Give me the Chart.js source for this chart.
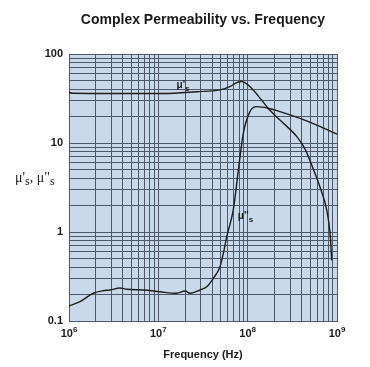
<!DOCTYPE html>
<html>
<head>
<meta charset="utf-8">
<script src="https://cdn.jsdelivr.net/npm/chart.js@4.4.1/dist/chart.umd.min.js"></script>
<style>
  html, body { margin: 0; padding: 0; background: #fff; }
  #wrap { width: 370px; height: 367px; }
</style>
</head>
<body>
<div id="wrap"><canvas id="permChart" width="370" height="367"></canvas></div>
<script>
var freqReal = [1e6, 1.1e6, 3e6, 1.13e7, 2.7e7, 4.9e7, 6.3e7, 7.55e7, 8.6e7, 9.5e7, 1.06e8, 1.38e8, 1.69e8, 2.3e8, 3.55e8, 4.38e8, 5.38e8, 6.45e8, 7.67e8, 8.36e8, 8.73e8];
var muReal   = [37, 36.2, 36, 36, 37.7, 39.5, 43, 47.6, 49, 47, 43, 31.8, 24.6, 18.1, 11.8, 8.6, 5.2, 3.2, 1.77, 0.97, 0.48];

// mu"s (imaginary part)
var freqImag = [1e6, 1.33e6, 1.87e6, 2.42e6, 2.88e6, 3.72e6, 4.43e6, 6.8e6, 1.04e7, 1.6e7, 1.99e7, 2.27e7, 2.93e7, 3.48e7, 4.13e7, 4.9e7, 5.35e7, 5.83e7, 6.9e7, 7.87e7, 8.95e7, 1.06e8, 1.26e8, 1.69e8, 2.3e8, 3.86e8, 5.94e8, 1e9];
var muImag   = [0.148, 0.165, 0.205, 0.219, 0.223, 0.235, 0.227, 0.223, 0.213, 0.205, 0.217, 0.205, 0.223, 0.243, 0.302, 0.407, 0.58, 0.885, 1.77, 4.98, 12.9, 22.5, 25.6, 24.6, 22.5, 18.9, 15.9, 12.6];

var xDecades = [6, 7, 8, 9];
var yDecades = [-1, 0, 1, 2];
var yTickText = ['0.1', '1', '10', '100'];

function gridTicks(decades){
  var out = [];
  for (var i = 0; i < decades.length - 1; i++){
    for (var k = 1; k <= 9; k++) out.push(k * Math.pow(10, decades[i]));
  }
  out.push(Math.pow(10, decades[decades.length - 1]));
  return out;
}
function decadeOf(v){
  var l = Math.log10(v);
  return Math.abs(l - Math.round(l)) < 1e-9 ? Math.round(l) : null;
}
function pts(xs, ys){ return xs.map(function(x, i){ return {x: x, y: ys[i]}; }); }

var gridColor = '#4e5868';
var bold11 = 'bold 11px "Liberation Sans"';

var plotBg = {
  id: 'plotBg',
  beforeDraw: function(chart){
    var a = chart.chartArea, c = chart.ctx;
    c.save();
    c.fillStyle = '#c9d9ea';
    c.fillRect(a.left, a.top, a.right - a.left, a.bottom - a.top);
    c.restore();
  }
};

// curve names, x decade labels with real superscripts, y axis title
var extraText = {
  id: 'extraText',
  afterDatasetsDraw: function(chart){
    var c = chart.ctx, xs = chart.scales.x, ys = chart.scales.y;
    function sub(x, y, main, s, font, sfont, dy){
      c.font = font;
      c.fillText(main, x, y);
      var w = c.measureText(main).width;
      c.font = sfont;
      c.fillText(s, x + w, y + dy);
      return x + w + c.measureText(s).width;
    }
    c.save();
    c.fillStyle = '#1a1a1a';
    c.textBaseline = 'alphabetic';
    c.textAlign = 'left';
    sub(xs.getPixelForValue(1.6e7), ys.getPixelForValue(41), "\u03bc'", 's', 'bold 10px "Liberation Sans"', 'bold 8px "Liberation Sans"', 3);
    sub(xs.getPixelForValue(7.75e7), ys.getPixelForValue(1.4), "\u03bc''", 's', 'bold 10px "Liberation Sans"', 'bold 8px "Liberation Sans"', 3);

    xDecades.forEach(function(d){
      var px = xs.getPixelForValue(Math.pow(10, d));
      c.font = bold11;
      var w1 = c.measureText('10').width;
      c.font = 'bold 8px "Liberation Sans"';
      var w2 = c.measureText(String(d)).width;
      var x0 = px - (w1 + w2) / 2;
      sub(x0, 337, '10', String(d), bold11, 'bold 8px "Liberation Sans"', -5);
    });

    var serif = '14px "Liberation Serif"', serifS = '12px "Liberation Serif"';
    var x = sub(15, 182, "\u03bc'", 's', serif, serifS, 3);
    c.font = serif;
    c.fillText(', ', x, 182);
    x += c.measureText(', ').width;
    sub(x, 182, '\u03bc"', 's', serif, serifS, 3);
    c.restore();
  }
};

var ctx = document.getElementById('permChart');
var permChart = new Chart(ctx, {
  type: 'line',
  data: {
    datasets: [
      { label: "mu's", data: pts(freqReal, muReal) },
      { label: 'mu"s', data: pts(freqImag, muImag) }
    ]
  },
  options: {
    responsive: false,
    animation: false,
    layout: { padding: { left: 0, right: 33, top: 0, bottom: 0 } },
    elements: {
      point: { radius: 0 },
      line: { borderColor: '#1e1e1e', borderWidth: 1.4, cubicInterpolationMode: 'monotone', fill: false }
    },
    plugins: {
      legend: { display: false },
      tooltip: { enabled: false },
      title: {
        display: true,
        text: 'Complex Permeability vs. Frequency',
        fullSize: false,
        color: '#1a1a1a',
        font: { family: '"Liberation Sans"', size: 14, weight: 'bold' },
        padding: { top: 12, bottom: 25.2 }
      }
    },
    scales: {
      x: {
        type: 'logarithmic',
        min: 1e6, max: 1e9,
        afterBuildTicks: function(s){ s.ticks = gridTicks(xDecades).map(function(v){ return {value: v}; }); },
        afterFit: function(s){ s.height = 46; },
        grid: { color: gridColor, lineWidth: 1, drawTicks: false },
        border: { color: gridColor, width: 1 },
        ticks: {
          autoSkip: false, maxRotation: 0, padding: 6,
          font: { family: '"Liberation Sans"', size: 11, weight: 'bold' },
          callback: function(){ return ''; }
        },
        title: {
          display: true, text: 'Frequency (Hz)', color: '#1a1a1a',
          font: { family: '"Liberation Sans"', size: 11, weight: 'bold' },
          padding: { top: 0, bottom: 5.4 }
        }
      },
      y: {
        type: 'logarithmic',
        min: 0.1, max: 100,
        afterBuildTicks: function(s){ s.ticks = gridTicks(yDecades).map(function(v){ return {value: v}; }); },
        afterFit: function(s){ s.width = 69; },
        grid: { color: gridColor, lineWidth: 1, drawTicks: false },
        border: { color: gridColor, width: 1 },
        ticks: {
          autoSkip: false, padding: 6,
          color: '#1a1a1a',
          font: { family: '"Liberation Sans"', size: 11, weight: 'bold' },
          callback: function(v){ var d = decadeOf(v); return d === null ? '' : yTickText[yDecades.indexOf(d)]; }
        }
      }
    }
  },
  plugins: [plotBg, extraText]
});
</script>
</body>
</html>
